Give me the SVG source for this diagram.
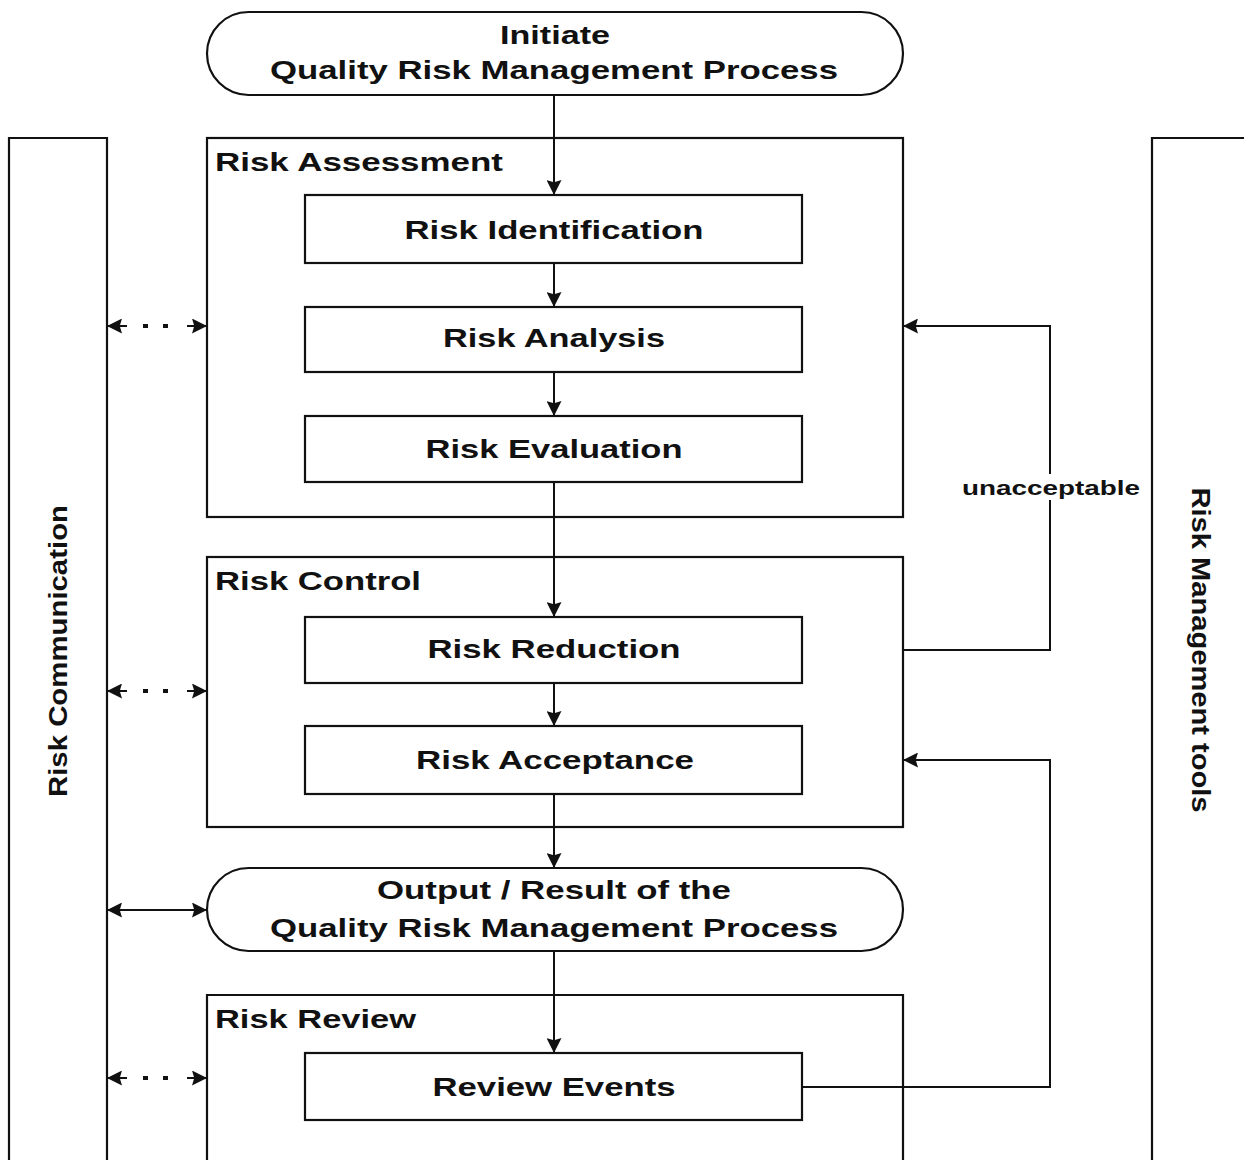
<svg xmlns="http://www.w3.org/2000/svg" width="1244" height="1160" viewBox="0 0 1244 1160">
<style>
.box{fill:#fff;stroke:#111;stroke-width:2.2}
.grp{fill:none;stroke:#111;stroke-width:2.2}
.t{font-family:"Liberation Sans",Arial,sans-serif;font-weight:bold;font-size:26px;fill:#111;text-anchor:middle}
.h{font-family:"Liberation Sans",Arial,sans-serif;font-weight:bold;font-size:26px;fill:#111}
.c{fill:none;stroke:#111;stroke-width:2}
.d{fill:none;stroke:#111;stroke-width:4;stroke-dasharray:5 15}
.lbl{font-family:"Liberation Sans",Arial,sans-serif;font-weight:bold;font-size:21px;fill:#111;text-anchor:middle}
</style>
<defs>
<marker id="ah" viewBox="0 0 10 10" refX="10" refY="5" markerWidth="15" markerHeight="15" markerUnits="userSpaceOnUse" orient="auto-start-reverse">
<path d="M0,0 L10,5 L0,10 L1.5,5 z" fill="#111"/>
</marker>
</defs>
<rect width="1244" height="1160" fill="#fff"/>

<g id="risk-communication">
<path class="grp" d="M9,1162 V138 H107 V1162"/>
<text class="t" transform="translate(67,651) rotate(-90)" textLength="292" lengthAdjust="spacingAndGlyphs">Risk Communication</text>
</g>
<g id="risk-management-tools">
<path class="grp" d="M1246,138 H1152 V1162"/>
<text class="t" transform="translate(1192,650) rotate(90)" textLength="325" lengthAdjust="spacingAndGlyphs">Risk Management tools</text>
</g>

<g id="risk-assessment">
<rect class="grp" x="207" y="138" width="696" height="379"/>
<text class="h" x="215" y="171" textLength="288" lengthAdjust="spacingAndGlyphs">Risk Assessment</text>
</g>
<g id="risk-control">
<rect class="grp" x="207" y="557" width="696" height="270"/>
<text class="h" x="215" y="590" textLength="206" lengthAdjust="spacingAndGlyphs">Risk Control</text>
</g>
<g id="risk-review">
<path class="grp" d="M207,1162 V995 H903 V1162"/>
<text class="h" x="215" y="1028" textLength="201" lengthAdjust="spacingAndGlyphs">Risk Review</text>
</g>

<g id="connectors">
<path class="c" d="M554,95 V195" marker-end="url(#ah)"/>
<path class="c" d="M554,263 V307" marker-end="url(#ah)"/>
<path class="c" d="M554,372 V416" marker-end="url(#ah)"/>
<path class="c" d="M554,482 V617" marker-end="url(#ah)"/>
<path class="c" d="M554,683 V726" marker-end="url(#ah)"/>
<path class="c" d="M554,794 V868" marker-end="url(#ah)"/>
<path class="c" d="M554,951 V1053" marker-end="url(#ah)"/>
<path class="c" d="M903,650 H1050 V326 H903" marker-end="url(#ah)"/>
<path class="c" d="M802,1087 H1050 V760 H903" marker-end="url(#ah)"/>
<rect x="958" y="474" width="184" height="26" fill="#fff"/>
<text class="lbl" x="1051" y="495" textLength="178" lengthAdjust="spacingAndGlyphs">unacceptable</text>
<path class="c" d="M107,910 H207" marker-start="url(#ah)" marker-end="url(#ah)"/>
<g>
<path class="c" d="M107,326 H127" marker-start="url(#ah)"/>
<path class="c" d="M187,326 H207" marker-end="url(#ah)"/>
<path class="d" d="M143,326 H168"/>
</g>
<g>
<path class="c" d="M107,691 H127" marker-start="url(#ah)"/>
<path class="c" d="M187,691 H207" marker-end="url(#ah)"/>
<path class="d" d="M143,691 H168"/>
</g>
<g>
<path class="c" d="M107,1078 H127" marker-start="url(#ah)"/>
<path class="c" d="M187,1078 H207" marker-end="url(#ah)"/>
<path class="d" d="M143,1078 H168"/>
</g>
</g>

<g id="initiate">
<rect class="box" x="207" y="12" width="696" height="83" rx="41.5"/>
<text class="t" x="555" y="44" textLength="110" lengthAdjust="spacingAndGlyphs">Initiate</text>
<text class="t" x="554" y="79" textLength="568" lengthAdjust="spacingAndGlyphs">Quality Risk Management Process</text>
</g>
<g id="risk-identification">
<rect class="box" x="305" y="195" width="497" height="68"/>
<text class="t" x="554" y="239" textLength="299" lengthAdjust="spacingAndGlyphs">Risk Identification</text>
</g>
<g id="risk-analysis">
<rect class="box" x="305" y="307" width="497" height="65"/>
<text class="t" x="554" y="347" textLength="222" lengthAdjust="spacingAndGlyphs">Risk Analysis</text>
</g>
<g id="risk-evaluation">
<rect class="box" x="305" y="416" width="497" height="66"/>
<text class="t" x="554" y="458" textLength="257" lengthAdjust="spacingAndGlyphs">Risk Evaluation</text>
</g>
<g id="risk-reduction">
<rect class="box" x="305" y="617" width="497" height="66"/>
<text class="t" x="554" y="658" textLength="253" lengthAdjust="spacingAndGlyphs">Risk Reduction</text>
</g>
<g id="risk-acceptance">
<rect class="box" x="305" y="726" width="497" height="68"/>
<text class="t" x="555" y="769" textLength="278" lengthAdjust="spacingAndGlyphs">Risk Acceptance</text>
</g>
<g id="output">
<rect class="box" x="207" y="868" width="696" height="83" rx="41.5"/>
<text class="t" x="554" y="899" textLength="354" lengthAdjust="spacingAndGlyphs">Output / Result of the</text>
<text class="t" x="554" y="937" textLength="568" lengthAdjust="spacingAndGlyphs">Quality Risk Management Process</text>
</g>
<g id="review-events">
<rect class="box" x="305" y="1053" width="497" height="67"/>
<text class="t" x="554" y="1096" textLength="243" lengthAdjust="spacingAndGlyphs">Review Events</text>
</g>
</svg>
